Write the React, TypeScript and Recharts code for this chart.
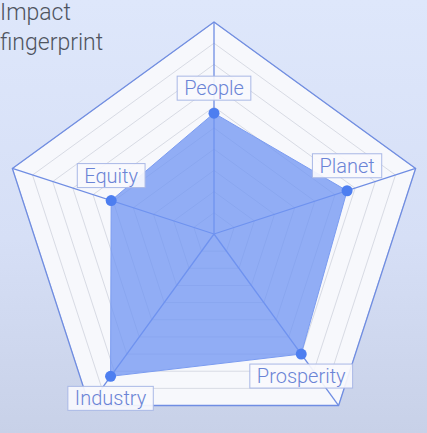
import React from 'react';
import {
  LabelList,
  PolarAngleAxis,
  PolarGrid,
  PolarRadiusAxis,
  Radar,
  RadarChart,
} from 'recharts';

const subjects = ['People', 'Planet', 'Prosperity', 'Industry', 'Equity'];
const scores = [57, 66, 70, 83, 51];

const CX = 214;
const CY = 234;
const OUTER_R = 212;

const chartData = subjects.map((subject, i) => ({ subject, score: scores[i] }));

let measureCtx: CanvasRenderingContext2D | null = null;
function textWidth(text: string) {
  if (!measureCtx) {
    measureCtx = document.createElement('canvas').getContext('2d');
  }
  if (!measureCtx) return text.length * 9;
  measureCtx.font = '300 20px Roboto';
  return measureCtx.measureText(text).width;
}

// boxed label above / below each point
const renderLabel = (props: any) => {
  const { x, y, value } = props;
  const above = y < CY;
  const midY = above ? y - 25 : y + 22;
  const w = textWidth(String(value)) + 14;
  const h = 24;
  return (
    <g>
      <rect
        x={x - w / 2}
        y={midY - h / 2}
        width={w}
        height={h}
        fill="#f8f9fd"
        fillOpacity={0.92}
        stroke="#a9b8e6"
        strokeWidth={1}
      />
      <text
        x={x}
        y={midY + 7}
        textAnchor="middle"
        fill="#6b84d6"
        fontSize={20}
        fontWeight={300}
        fontFamily="Roboto, sans-serif"
      >
        {value}
      </text>
    </g>
  );
};

export default function App() {
  return (
    <div
      style={{
        position: 'fixed',
        left: 0,
        top: 0,
        width: 427,
        height: 433,
        overflow: 'hidden',
        background: 'linear-gradient(180deg, #dee7fb 0%, #d6dff6 55%, #c8d1e8 100%)',
      }}
    >
      <div
        style={{
          position: 'absolute',
          left: 0,
          top: -2,
          fontFamily: 'Roboto, sans-serif',
          fontWeight: 300,
          fontSize: 23,
          lineHeight: '30px',
          color: '#4f5460',
          zIndex: 2,
        }}
      >
        Impact
        <br />
        fingerprint
      </div>
      <RadarChart
        width={427}
        height={433}
        cx={CX}
        cy={CY}
        outerRadius={OUTER_R}
        data={chartData}
        margin={{ top: 0, right: 0, bottom: 0, left: 0 }}
      >
        <PolarGrid
          gridType="polygon"
          radialLines={false}
          stroke="#d8dbe4"
          strokeWidth={1}
          fill="#f7f8fc"
          fillOpacity={1}
        />
        <PolarGrid
          gridType="polygon"
          polarRadius={[OUTER_R]}
          radialLines
          stroke="#6f8de3"
          strokeWidth={1.3}
        />
        <PolarAngleAxis dataKey="subject" tick={false} axisLine={false} tickLine={false} />
        <PolarRadiusAxis
          domain={[0, 100]}
          tickCount={11}
          tick={false}
          axisLine={false}
          tickLine={false}
        />
        <Radar
          dataKey="score"
          stroke="#7b9cf1"
          strokeWidth={1}
          fill="#6f94f3"
          fillOpacity={0.75}
          dot={{ r: 5.5, fill: '#4d7ef0', stroke: 'none', fillOpacity: 1 }}
          isAnimationActive={false}
        >
          <LabelList dataKey="subject" content={renderLabel} />
        </Radar>
      </RadarChart>
    </div>
  );
}
